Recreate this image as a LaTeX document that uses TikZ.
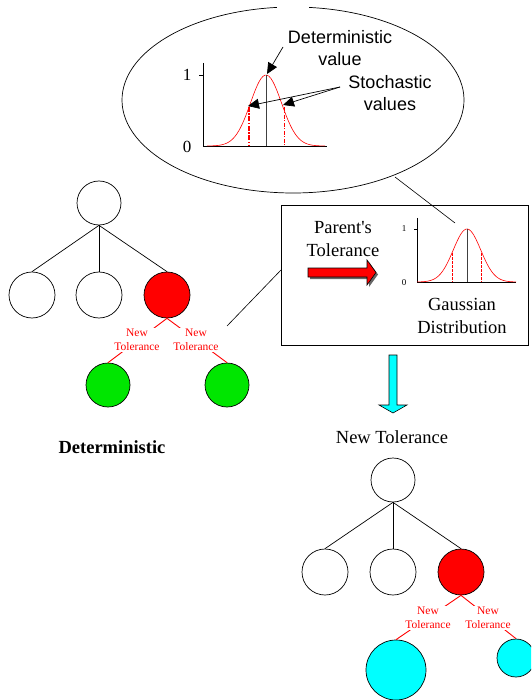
\documentclass[tikz,border=0pt]{standalone}
\usepackage{fontspec}
\setmainfont{Liberation Serif}
\newfontfamily\arialf{Liberation Sans}
\usetikzlibrary{arrows.meta}
\definecolor{cyanf}{RGB}{0,255,255}
\definecolor{greenf}{RGB}{0,230,0}
\begin{document}
\begin{tikzpicture}[x=1pt,y=-1pt,
  nd/.style={circle,draw=black,line width=0.7pt,inner sep=0pt,minimum size=#1},
  nd/.default=46pt,
  tl/.style={line width=0.7pt},
  redl/.style={red,line width=0.9pt},
  smalllbl/.style={fill=white,text=red,align=center,inner sep=1.5pt,font=\fontsize{11.5}{14}\selectfont},
  bigtxt/.style={align=center,inner sep=0pt,font=\fontsize{18.5}{22.5}\selectfont},
  sanstxt/.style={align=center,inner sep=0pt,font=\arialf\fontsize{18}{22}\selectfont},
  bigarr/.style={-{Triangle[length=11pt,width=10pt]},line width=0.7pt},
  gcurve/.style={red,line width=0.6pt,smooth,samples=60}
]
\useasboundingbox (0,0) rectangle (531,700);
\clip (0,0) rectangle (531,700);

% ---- big ellipse callout
\draw[line width=0.7pt] (293,100) ++(275.4:171 and 93) arc[start angle=275.4,end angle=624.6,x radius=171,y radius=93];
\coordinate (ellend) at (395,177);
\coordinate (boxin) at (455,223);
\draw[line width=0.6pt] (ellend) -- (boxin);

% big gaussian
\draw[line width=0.7pt] (203,63) -- (203,146) -- (327,146);
\draw[line width=0.7pt] (199,75) -- (203,75);
\node[font=\fontsize{17}{17}\selectfont,inner sep=0pt] (one1) at (187,75) {1};
\node[font=\fontsize{17}{17}\selectfont,inner sep=0pt] (zero1) at (187,147) {0};
\draw[gcurve] plot[domain=207:325] (\x,{146-71*exp(-((\x-266)^2)/480.5)});
\draw[line width=0.8pt,black!75] (266,75) -- (266,146);
\draw[red,line width=1.5pt,dash pattern=on 5pt off 1.5pt on 1.5pt off 1.5pt] (249,107) -- (249,146);
\draw[red,line width=0.7pt,dash pattern=on 4pt off 1.5pt on 1pt off 1.5pt] (284,107) -- (284,146);
\coordinate (peak) at (267,74);
\coordinate (stl) at (248,106);
\coordinate (str) at (283,105);
\node[sanstxt] (detv) at (340,48) {Deterministic\\value};
\node[sanstxt] (stov) at (390,93) {Stochastic\\values};
\draw[bigarr] (283,47) -- (peak);
\draw[bigarr] (340,87) -- (stl);
\draw[bigarr] (340,87) -- (str);

% ---- box
\node[draw,line width=0.8pt,minimum width=247pt,minimum height=140pt,inner sep=0pt] (box) at (404.5,275) {};
\node[bigtxt] (parent) at (343,239) {Parent\textquotesingle s\\Tolerance};
% red arrow with shadow
\fill[black!60] (310,270) -- (369,270) -- (369,262) -- (378,274.5) -- (369,287) -- (369,279) -- (310,279) -- cycle;
\draw[fill=red,line width=0.6pt] (308,268) -- (367,268) -- (367,260) -- (376,272.5) -- (367,285) -- (367,277) -- (308,277) -- cycle;
% small gaussian
\draw[line width=0.7pt] (417,218) -- (417,282) -- (516,282);
\draw[line width=0.7pt] (414,229) -- (417,229);
\node[font=\fontsize{9}{9}\selectfont,inner sep=0pt] (one2) at (404,229) {1};
\node[font=\fontsize{9}{9}\selectfont,inner sep=0pt] (zero2) at (404,283) {0};
\draw[gcurve] plot[domain=417:516] (\x,{282-53*exp(-((\x-467)^2)/375)});
\draw[line width=0.8pt,black!75] (467,229) -- (467,282);
\draw[red,line width=0.6pt,dash pattern=on 2.5pt off 1.5pt] (452,253) -- (452,282);
\draw[red,line width=0.6pt,dash pattern=on 2.5pt off 1.5pt] (481,253) -- (481,282);
\node[bigtxt] (gauss) at (462,316) {Gaussian\\Distribution};

\coordinate (treeend) at (227,326);
\draw[line width=0.6pt] (treeend) -- (281,270);

% ---- left tree
\node[nd=44pt] (r1) at (99,203) {};
\node[nd] (a1) at (32,295) {};
\node[nd] (b1) at (99,295) {};
\node[nd,fill=red] (c1) at (167,295) {};
\draw[tl] (r1.south) -- (a1.north);
\draw[tl] (r1.south) -- (b1.north);
\draw[tl] (r1.south) -- (c1.north);
\node[nd=44pt,fill=greenf] (g1) at (108,385) {};
\node[nd=44pt,fill=greenf] (g2) at (227,385) {};
\draw[redl] (c1.south) -- (g1.north);
\draw[redl] (c1.south) -- (g2.north);
\node[smalllbl] (l1) at (137,340) {New\\Tolerance};
\node[smalllbl] (l2) at (196,340) {New\\Tolerance};
\node[font=\bfseries\fontsize{18.5}{22}\selectfont,inner sep=0pt] (detlbl) at (112,447) {Deterministic};

% ---- cyan arrow
\draw[fill=cyanf,line width=0.6pt] (389,355) -- (397,355) -- (397,405) -- (407,405) -- (393,413) -- (379,405) -- (389,405) -- cycle;
\node[bigtxt] (newtol) at (392,437) {New Tolerance};

% ---- right tree
\node[nd=44pt] (r2) at (393,480) {};
\node[nd] (a2) at (325,572) {};
\node[nd] (b2) at (393,572) {};
\node[nd,fill=red] (c2) at (461,572) {};
\draw[tl] (r2.south) -- (a2.north);
\draw[tl] (r2.south) -- (b2.north);
\draw[tl] (r2.south) -- (c2.north);
\node[nd=60pt,fill=cyanf] (cy1) at (396,670) {};
\node[nd=38pt,fill=cyanf] (cy2) at (516,658) {};
\draw[redl] (c2.south) -- (cy1.north);
\draw[redl] (c2.south) -- (cy2.north);
\node[smalllbl] (l3) at (428,618) {New\\Tolerance};
\node[smalllbl] (l4) at (488,618) {New\\Tolerance};
\end{tikzpicture}
\end{document}
